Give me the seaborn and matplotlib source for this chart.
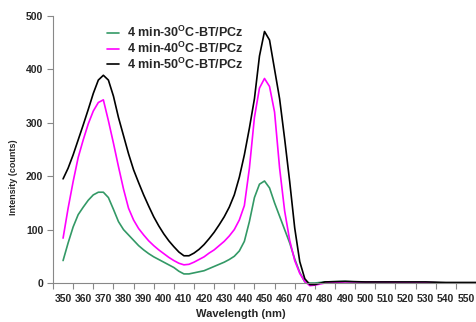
import matplotlib
matplotlib.use("Agg")
import matplotlib.pyplot as plt
import seaborn as sns
import pandas as pd
from matplotlib.ticker import FixedLocator

wavelength = [350, 352.5, 355, 357.5, 360, 362.5, 365, 367.5, 370, 372.5, 375, 377.5,
              380, 382.5, 385, 387.5, 390, 392.5, 395, 397.5, 400, 402.5, 405, 407.5,
              410, 412.5, 415, 417.5, 420, 422.5, 425, 427.5, 430, 432.5, 435, 437.5,
              440, 442.5, 445, 447.5, 450, 452.5, 455, 457.5, 460, 462.5, 465, 467.5,
              470, 472.5, 475, 480, 490, 500, 510, 520, 530, 540, 550, 555]
s30 = [42, 75, 105, 128, 142, 155, 165, 170, 170, 160, 138, 115,
       100, 90, 80, 70, 62, 55, 49, 44, 39, 34, 29, 22,
       17, 17, 19, 21, 23, 27, 31, 35, 39, 44, 50, 60,
       78, 115, 160, 185, 191, 178, 150, 125, 100, 75, 45, 20,
       2, 0, 0, 2, 3, 1, 1, 1, 1, 0, 0, 0]
s40 = [84, 140, 190, 235, 268, 298, 322, 338, 343, 304, 262, 218,
       176, 140, 118, 102, 90, 79, 70, 62, 55, 48, 42, 37,
       34, 35, 39, 44, 49, 56, 62, 70, 78, 88, 100, 118,
       145, 215, 310, 365, 383, 368, 320, 215, 135, 80, 42, 18,
       3, -5, -4, 0, 2, 2, 2, 1, 1, 0, 0, 0]
s50 = [195, 215, 240, 268, 296, 325, 355, 380, 389, 380, 350, 310,
       276, 242, 212, 188, 165, 144, 124, 107, 92, 79, 68, 58,
       51, 51, 56, 63, 72, 83, 95, 109, 124, 142, 165, 198,
       240, 290, 345, 425, 471, 455, 400, 345, 270, 190, 103, 40,
       8, -3, -3, 2, 3, 2, 2, 2, 2, 1, 1, 1]
labels = ["4 min-30$^{\\mathbf{O}}$C-BT/PCz",
          "4 min-40$^{\\mathbf{O}}$C-BT/PCz",
          "4 min-50$^{\\mathbf{O}}$C-BT/PCz"]
colors = ["#339966", "#ff00ff", "#000000"]
x_ticks = list(range(350, 551, 10))
y_ticks = [0, 100, 200, 300, 400, 500]

sns.set_style("white")
plt.rcParams['font.family'] = ['Liberation Sans', 'DejaVu Sans']
plt.rcParams['font.weight'] = 'bold'
plt.rcParams['mathtext.fontset'] = 'custom'
plt.rcParams['mathtext.bf'] = 'Liberation Sans:bold'
plt.rcParams['mathtext.rm'] = 'Liberation Sans:bold'

df = pd.concat([
    pd.DataFrame({"wl": wavelength, "val": s, "series": lab})
    for s, lab in zip([s30, s40, s50], labels)
])

fig = plt.figure(figsize=(4.76, 3.22), dpi=100)
ax = fig.add_axes([53/476, 1-283/322, 1-53/476, (283-16)/322])
sns.lineplot(data=df, x="wl", y="val", hue="series", palette=colors,
             estimator=None, sort=False, linewidth=1.2, ax=ax, clip_on=False)

ax.set_xlim(345, 555)
ax.set_ylim(0, 500)
ax.xaxis.set_major_locator(FixedLocator(x_ticks))
ax.xaxis.set_minor_locator(FixedLocator(list(range(345, 556, 10))))
ax.set_yticks(y_ticks)
ax.tick_params(axis='x', which='major', length=0, labelsize=7.5, pad=8)
ax.tick_params(axis='x', which='minor', length=4, width=0.8, color='#888888', direction='out', bottom=True)
ax.tick_params(axis='y', which='major', length=4, width=0.8, color='#888888', direction='out', left=True, labelsize=7.5, pad=3)
for lab in ax.get_xticklabels() + ax.get_yticklabels():
    lab.set_fontweight('bold')

for side in ['top', 'right']:
    ax.spines[side].set_visible(False)
for side in ['left', 'bottom']:
    ax.spines[side].set_color('#888888')
    ax.spines[side].set_linewidth(0.8)

ax.set_xlabel("Wavelength (nm)", fontsize=8, fontweight='bold')
ax.xaxis.set_label_coords(0.444, -0.097)
ax.set_ylabel("Intensity (counts)", fontsize=6.5, fontweight='bold')
ax.yaxis.set_label_coords(-0.083, 0.397)

leg = ax.legend(loc='upper left', bbox_to_anchor=(0.115, 0.985), frameon=False,
                handlelength=1.0, handletextpad=0.6, labelspacing=0.05,
                borderaxespad=0, title=None, prop={'weight': 'bold', 'size': 9})

fig.savefig("out.png", dpi=100)
